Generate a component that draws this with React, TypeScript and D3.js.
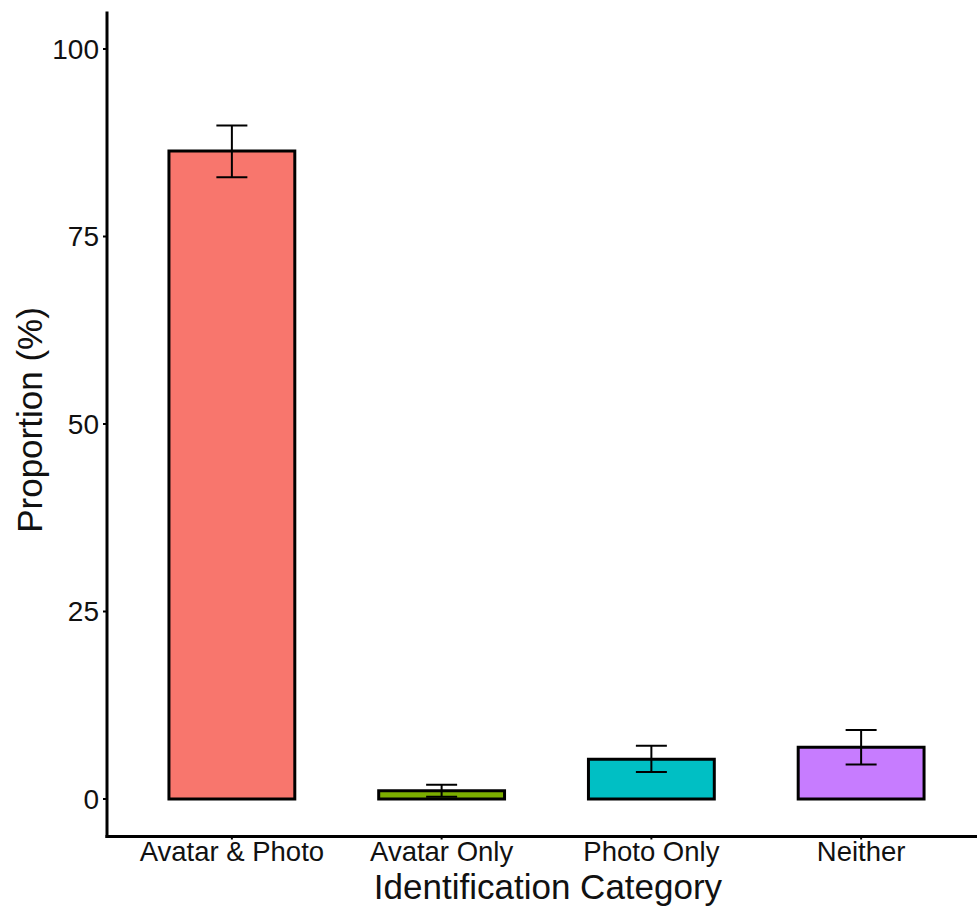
import React from "react";
import * as d3 from "d3";

const categories = ["Avatar & Photo", "Avatar Only", "Photo Only", "Neither"];
const values = [86.4, 1.1, 5.3, 6.9];
const errLow = [82.9, 0.3, 3.6, 4.6];
const errHigh = [89.8, 1.9, 7.1, 9.2];
const colors = ["#F8766D", "#7CAE00", "#00BFC4", "#C77CFF"];
const yTicks = [0, 25, 50, 75, 100];

const W = 977;
const H = 906;
const FONT = "'Liberation Sans', Arial, Helvetica, sans-serif";

export default function App() {
  const x = d3
    .scaleBand<string>()
    .domain(categories)
    .range([127, 966])
    .paddingInner(0.4)
    .paddingOuter(0.2);
  const y = d3.scaleLinear().domain([-5, 105]).range([836.5, 11.5]);
  const axisX = 107;
  const capW = 31;

  return (
    <svg
      width={W}
      height={H}
      style={{ position: "absolute", left: 0, top: 0, background: "#fff" }}
      fontFamily={FONT}
    >
      <rect x={0} y={0} width={W} height={H} fill="#fff" />
      {categories.map((c, i) => {
        const bx = x(c)!;
        const bw = x.bandwidth();
        const cx = bx + bw / 2;
        return (
          <g key={c}>
            <rect
              x={bx}
              y={y(values[i])}
              width={bw}
              height={y(0) - y(values[i])}
              fill={colors[i]}
              stroke="#000"
              strokeWidth={3}
            />
            <line x1={cx} x2={cx} y1={y(errHigh[i])} y2={y(errLow[i])} stroke="#000" strokeWidth={2} />
            <line x1={cx - capW / 2} x2={cx + capW / 2} y1={y(errHigh[i])} y2={y(errHigh[i])} stroke="#000" strokeWidth={2} />
            <line x1={cx - capW / 2} x2={cx + capW / 2} y1={y(errLow[i])} y2={y(errLow[i])} stroke="#000" strokeWidth={2} />
            <line x1={cx} x2={cx} y1={y(-5)} y2={y(-5) + 3} stroke="#000" strokeWidth={2} />
            <text x={cx} y={861} textAnchor="middle" fontSize={27.5} fill="#111">
              {c}
            </text>
          </g>
        );
      })}
      {yTicks.map((t) => (
        <g key={t}>
          <line x1={axisX - 4} x2={axisX} y1={y(t)} y2={y(t)} stroke="#000" strokeWidth={2} />
          <text x={99} y={y(t)} dy="0.35em" textAnchor="end" fontSize={28} fill="#111">
            {t}
          </text>
        </g>
      ))}
      <line x1={axisX} x2={axisX} y1={y(105)} y2={y(-5) + 1.5} stroke="#000" strokeWidth={3} />
      <line x1={axisX - 1.5} x2={W} y1={y(-5)} y2={y(-5)} stroke="#000" strokeWidth={3} />
      <text x={548} y={899} textAnchor="middle" fontSize={35} fill="#111">
        Identification Category
      </text>
      <text
        transform={`translate(42, 420) rotate(-90)`}
        textAnchor="middle"
        fontSize={35}
        fill="#111"
      >
        Proportion (%)
      </text>
    </svg>
  );
}
